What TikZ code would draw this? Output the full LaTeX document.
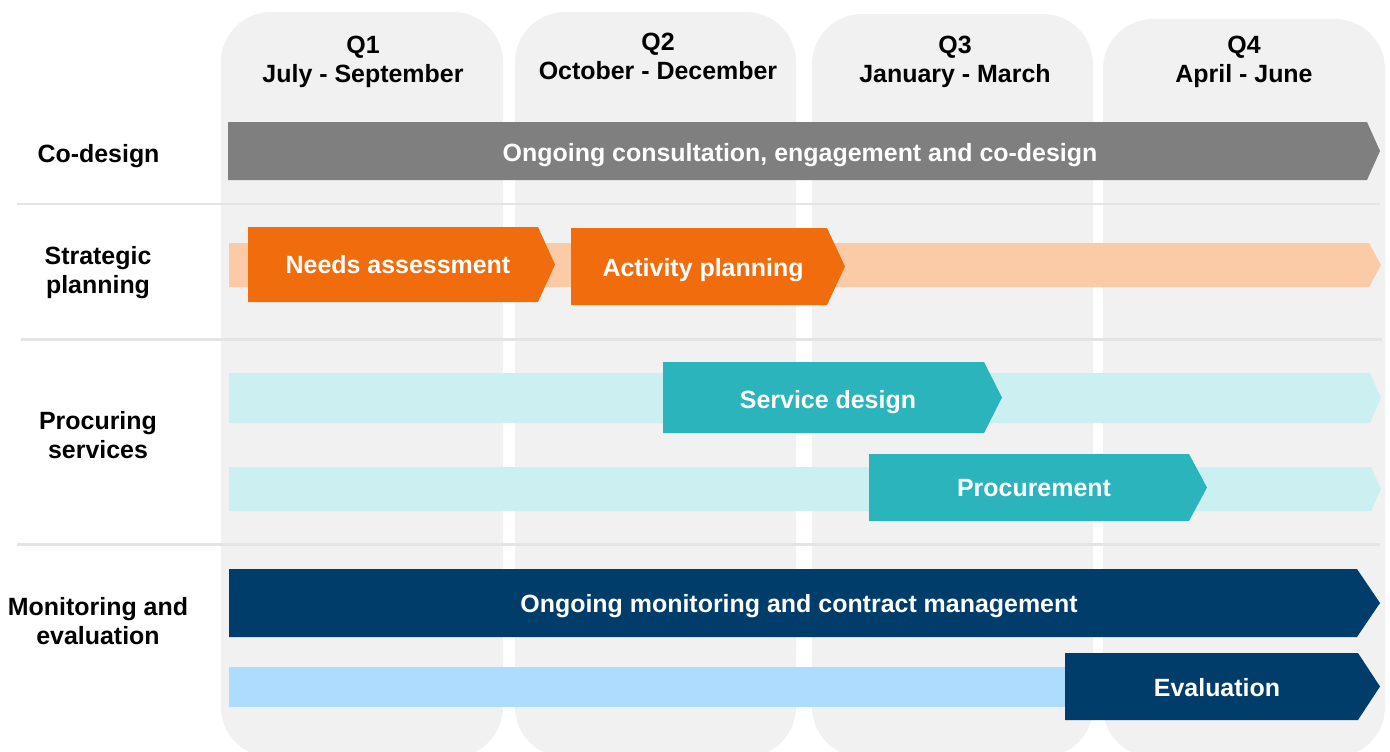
\documentclass[tikz,border=0pt]{standalone}
\usepackage{fontspec}
\setmainfont{Liberation Sans}
\usepackage{tikz}
\definecolor{colfill}{RGB}{241,241,241}
\definecolor{rule}{RGB}{228,228,228}
\definecolor{consult}{RGB}{127,127,127}
\definecolor{plan}{RGB}{241,108,12}
\definecolor{planlight}{RGB}{251,202,166}
\definecolor{proc}{RGB}{43,180,188}
\definecolor{proclight}{RGB}{204,240,241}
\definecolor{monitor}{RGB}{0,61,106}
\definecolor{monitorlight}{RGB}{174,220,254}

% chevron bar: colour, left, right, top, bottom, tip length
\newcommand{\phasebar}[6]{%
  \fill[#1] (#2,#4) -- ({#3-#6},#4) -- (#3,{(#4+#5)/2}) -- ({#3-#6},#5) -- (#2,#5) -- cycle;}

\begin{document}
\begin{tikzpicture}[x=0.02cm, y=-0.02cm,
    font=\fontsize{14.2}{16.5}\selectfont\bfseries,
    lane/.style={align=center, inner sep=0pt},
    bartext/.style={text=white, inner sep=0pt, text height=10.2pt, text depth=0pt}]
    \useasboundingbox[fill=white] (0,0) rectangle (1390,751);

    % Quarter columns
    \foreach \l/\r/\t in {221/503/12, 515/796/12, 812/1093/14, 1103/1385/19}
      \fill[colfill, rounded corners=1cm] (\l,\t) rectangle (\r,757);

    \node[lane] (q1) at (363,61.5) {Q1\\July - September};
    \node[lane] (q2) at (658,56) {Q2\\October - December};
    \node[lane] (q3) at (955,61.5) {Q3\\January - March};
    \node[lane] (q4) at (1244,61.5) {Q4\\April - June};

    % Lane separators
    \draw[rule, line width=1.7pt] (17,204) -- (1380,204);
    \draw[rule, line width=1.7pt] (21,339) -- (1382,339);
    \draw[rule, line width=1.7pt] (17,544) -- (1380,544);

    % Lane labels
    \node[lane] (codesign) at (98.5,156) {Co-design};
    \node[lane] (strategic) at (98,273) {Strategic\\planning};
    \node[lane] (procuring) at (98,435) {Procuring\\services};
    \node[lane] (monitoring) at (98,621.5) {Monitoring and\\evaluation};

    % Co-design
    \phasebar{consult}{228}{1380}{122}{180}{13}
    \node[bartext] (consultation) at (800,153) {Ongoing consultation, engagement and co-design};

    % Strategic planning
    \phasebar{planlight}{229}{1381}{243}{287}{12}
    \phasebar{plan}{248}{555}{227}{302}{17}
    \phasebar{plan}{571}{845}{228}{305}{18}
    \node[bartext] (needs) at (398,265) {Needs assessment};
    \node[bartext] (activity) at (703,268) {Activity planning};

    % Procuring services
    \phasebar{proclight}{229}{1381}{373}{423}{11}
    \phasebar{proc}{663}{1002}{362}{433}{18}
    \node[bartext] (servdesign) at (828,400) {Service design};
    \phasebar{proclight}{229}{1381}{467}{511}{10}
    \phasebar{proc}{869}{1207}{454}{521}{18}
    \node[bartext] (procure) at (1034,488) {Procurement};

    % Monitoring and evaluation
    \phasebar{monitor}{229}{1380}{569}{637}{23}
    \node[bartext] (contract) at (799,604) {Ongoing monitoring and contract management};
    \fill[monitorlight] (229,667) rectangle (1070,707);
    \phasebar{monitor}{1065}{1380}{653}{720}{22}
    \node[bartext] (evaluation) at (1217,688) {Evaluation};
\end{tikzpicture}
\end{document}
